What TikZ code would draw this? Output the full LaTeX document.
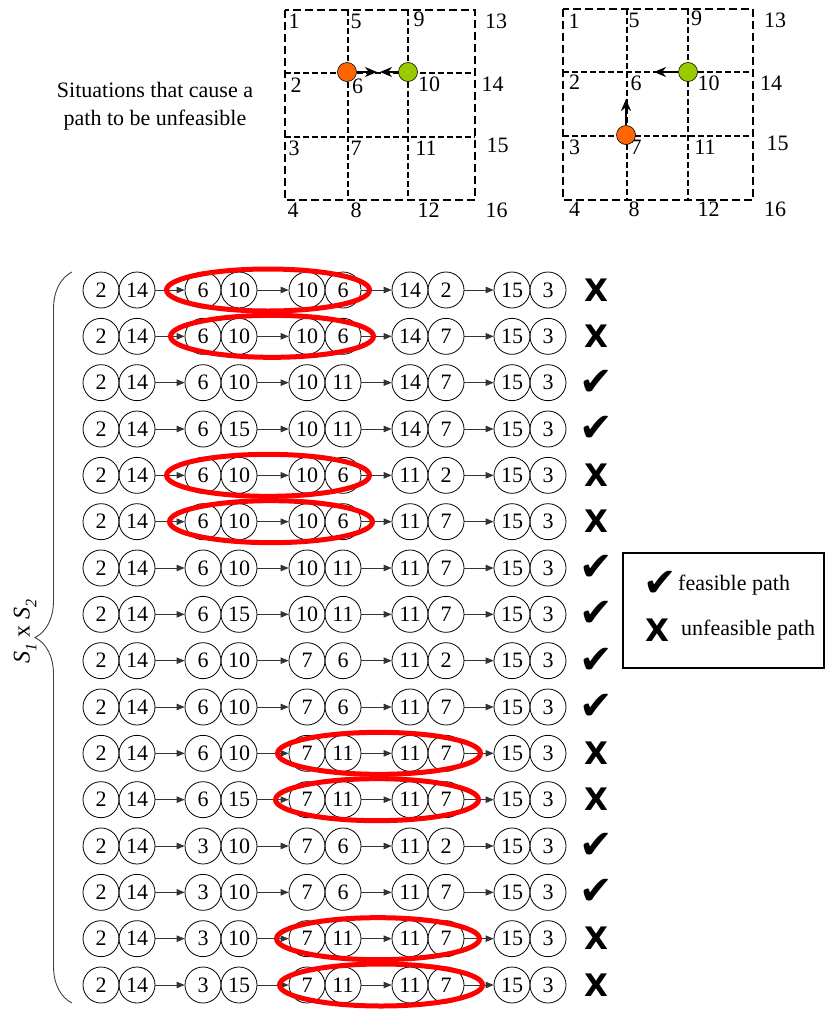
\documentclass[tikz,border=0pt]{standalone}
\usepackage{fontspec}
\setmainfont{Liberation Serif}
\newfontfamily\djv{DejaVu Sans}
\usetikzlibrary{arrows.meta,decorations.pathreplacing,shapes.geometric}
\definecolor{dotorange}{HTML}{FF6600}
\definecolor{dotgreen}{HTML}{99CC00}
\tikzset{
 num/.style={circle,draw,line width=0.8pt,minimum size=36pt,inner sep=0pt,font=\fontsize{22}{22}\selectfont},
 link/.style={line width=0.8pt,draw=black!80,-{Triangle[length=8pt,width=6.5pt]}},
 badpair/.style={draw=red,line width=5pt},
 lbl/.style={inner sep=0pt,font=\fontsize{22}{22}\selectfont},
 gridout/.style={line width=2pt,dash pattern=on 8pt off 4pt},
 gridin/.style={line width=1.2pt,dash pattern=on 6pt off 3pt},
 dotnode/.style={circle,draw,line width=0.6pt,minimum size=19pt,inner sep=0pt},
 movearrow/.style={line width=2.6pt,-{Stealth[length=12pt,width=10pt]}},
 marknode/.style={inner sep=0pt},
}
\newcommand\okmark{{\djv\fontsize{40}{40}\selectfont ✔}}
\newcommand\nomark{{\djv\bfseries\fontsize{31}{31}\selectfont X}}
\newcommand\prow[9]{%
 \node[num] (r#1a) at (101,#2) {2};
 \node[num] (r#1b) at (137,#2) {14};
 \node[num] (r#1c) at (203,#2) {#3};
 \node[num] (r#1d) at (239,#2) {#4};
 \node[num] (r#1e) at (307,#2) {#5};
 \node[num] (r#1f) at (343,#2) {#6};
 \node[num] (r#1g) at (410,#2) {#7};
 \node[num] (r#1h) at (446,#2) {#8};
 \node[num] (r#1i) at (512,#2) {15};
 \node[num] (r#1j) at (548,#2) {3};
 \draw[link] (r#1b) -- (r#1c);
 \draw[link] (r#1d) -- (r#1e);
 \draw[link] (r#1f) -- (r#1g);
 \draw[link] (r#1h) -- (r#1i);
 \node[marknode] (m#1) at (596,#2) {#9};
}
\begin{document}
\begin{tikzpicture}[x=1pt,y=-1pt]
\useasboundingbox (0,0) rectangle (825,1015);

% ---------- grid 1 ----------
\draw[gridin] (348,10) -- (348,200);
\draw[gridin] (408,10) -- (408,200);
\draw[gridin] (285,73) -- (475,73);
\draw[gridin] (285,137) -- (475,137);
\draw[gridout] (285,10) rectangle (475,200);
\foreach \t/\x/\y in {1/294/21,5/356/21,9/419/19.5,13/496/21,
  2/296/85,6/357.5/86,10/429/84,14/492.5/84,
  3/294/148,7/356/148,11/426/148,15/497.5/145,
  4/293/210,8/356/210,12/428.5/210,16/496.5/210}
  \node[lbl] (ga\t) at (\x,\y) {\t};
\node[dotnode,fill=dotorange] (go1) at (347,72) {};
\node[dotnode,fill=dotgreen] (gg1) at (408,72) {};
\coordinate (go1t) at (377,72);
\coordinate (gg1t) at (380,72);
\draw[movearrow] (go1) -- (go1t);
\draw[movearrow] (gg1) -- (gg1t);

% ---------- grid 2 ----------
\draw[gridin] (627,9) -- (627,200);
\draw[gridin] (688,9) -- (688,200);
\draw[gridin] (563,72) -- (753,72);
\draw[gridin] (563,136) -- (753,136);
\draw[gridout] (563,9) rectangle (753,200);
\foreach \t/\x/\y in {1/574/21,5/634/20,9/696.5/18,13/775/20,
  2/574.5/82.5,6/636/83,10/708.5/83,14/771/83,
  3/574.5/147,7/636/147,11/705/147,15/777.5/143,
  4/574.5/209,8/634/209,12/708.5/209,16/775/209}
  \node[lbl] (gb\t) at (\x,\y) {\t};
\node[dotnode,fill=dotgreen] (gg2) at (688,72) {};
\node[dotnode,fill=dotorange] (go2) at (626,135) {};
\coordinate (gg2t) at (654,72);
\coordinate (go2t) at (626,99);
\draw[movearrow] (gg2) -- (gg2t);
\draw[movearrow] (go2) -- (go2t);

% ---------- caption ----------
\node[lbl,align=center,font=\fontsize{22}{28}\selectfont] (sit) at (155,106)
  {Situations that cause a\\path to be unfeasible};

% ---------- rows ----------
\prow{1}{290}{6}{10}{10}{6}{14}{2}{\nomark}
\prow{2}{336.33}{6}{10}{10}{6}{14}{7}{\nomark}
\prow{3}{382.67}{6}{10}{10}{11}{14}{7}{\okmark}
\prow{4}{429}{6}{15}{10}{11}{14}{7}{\okmark}
\prow{5}{475.33}{6}{10}{10}{6}{11}{2}{\nomark}
\prow{6}{521.67}{6}{10}{10}{6}{11}{7}{\nomark}
\prow{7}{568}{6}{10}{10}{11}{11}{7}{\okmark}
\prow{8}{614.33}{6}{15}{10}{11}{11}{7}{\okmark}
\prow{9}{660.67}{6}{10}{7}{6}{11}{2}{\okmark}
\prow{10}{707}{6}{10}{7}{6}{11}{7}{\okmark}
\prow{11}{753.33}{6}{10}{7}{11}{11}{7}{\nomark}
\prow{12}{799.67}{6}{15}{7}{11}{11}{7}{\nomark}
\prow{13}{846}{3}{10}{7}{6}{11}{2}{\okmark}
\prow{14}{892.33}{3}{10}{7}{6}{11}{7}{\okmark}
\prow{15}{938.67}{3}{10}{7}{11}{11}{7}{\nomark}
\prow{16}{985}{3}{15}{7}{11}{11}{7}{\nomark}

% ---------- red ellipses ----------
\draw[badpair] (268,290) ellipse [x radius=101.5, y radius=21];
\draw[badpair] (272,336.33) ellipse [x radius=101.5, y radius=21];
\draw[badpair] (268,475.33) ellipse [x radius=101.5, y radius=21];
\draw[badpair] (271,521.67) ellipse [x radius=101.5, y radius=21];
\draw[badpair] (379,753.33) ellipse [x radius=101.5, y radius=21];
\draw[badpair] (377,799.67) ellipse [x radius=101.5, y radius=21];
\draw[badpair] (378,938.67) ellipse [x radius=101.5, y radius=21];
\draw[badpair] (381,985) ellipse [x radius=101.5, y radius=21];

% ---------- brace ----------
\coordinate (bb) at (72,1003);
\coordinate (bt) at (72,272);
\draw[black!75,line width=0.9pt,decorate,decoration={brace,amplitude=37pt}] (bb) -- (bt);
\node[lbl,rotate=90,font=\fontsize{24}{24}\selectfont] (setlbl) at (25,631)
  {\textit{S}\raisebox{-0.28em}{\fontsize{16}{16}\selectfont\textit{1}}\ x \textit{S}\raisebox{-0.28em}{\fontsize{16}{16}\selectfont\textit{2}}};

% ---------- legend ----------
\node[draw,line width=2pt,minimum width=201pt,minimum height=115pt,inner sep=0pt] (legend) at (723,610) {};
\node[marknode] (lok) at (660,584) {\okmark};
\node[lbl,anchor=west] (lokt) at (678,585) {feasible path};
\node[marknode] (lno) at (657,630) {\nomark};
\node[lbl,anchor=west] (lnot) at (681,630) {unfeasible path};
\end{tikzpicture}
\end{document}
